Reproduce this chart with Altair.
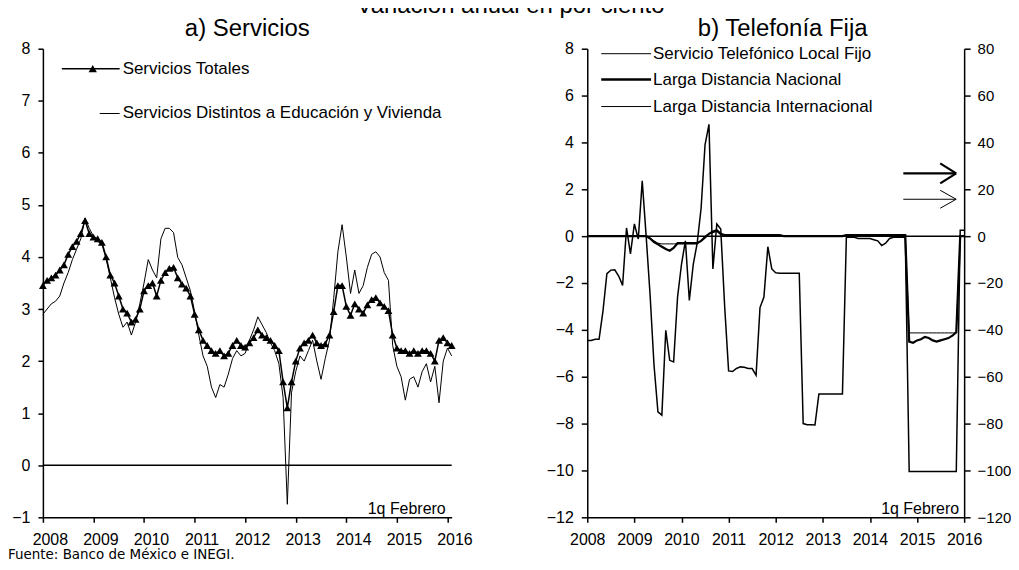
import altair as alt
import pandas as pd

FONT = "Liberation Sans"

# ---------------- a) Servicios : monthly, Jan 2008 .. Feb 2016 ----------------
serv_totales = [
    3.45, 3.55, 3.6, 3.65, 3.75, 3.85, 4.05, 4.2, 4.3, 4.45, 4.7, 4.45,      # 2008
    4.38, 4.35, 4.28, 4.0, 3.65, 3.5, 3.25, 3.0, 2.92, 2.75, 2.8, 3.0,       # 2009
    3.35, 3.45, 3.5, 3.25, 3.55, 3.7, 3.78, 3.8, 3.6, 3.48, 3.4, 3.25,      # 2010
    2.9, 2.6, 2.4, 2.3, 2.2, 2.15, 2.2, 2.1, 2.15, 2.3, 2.4, 2.3,           # 2011
    2.27, 2.35, 2.45, 2.6, 2.5, 2.45, 2.4, 2.3, 2.2, 1.6, 1.1, 1.6,         # 2012
    2.0, 2.25, 2.35, 2.4, 2.5, 2.35, 2.3, 2.33, 2.5, 2.95, 3.45, 3.45,      # 2013
    3.05, 2.88, 3.1, 3.0, 2.92, 3.08, 3.18, 3.22, 3.12, 3.05, 2.97, 2.5,    # 2014
    2.25, 2.2, 2.2, 2.15, 2.2, 2.15, 2.2, 2.2, 2.15, 2.0, 2.4, 2.45,        # 2015
    2.35, 2.3,                                                               # 2016
]
serv_distintos = [
    2.9, 3.0, 3.1, 3.15, 3.25, 3.5, 3.7, 3.95, 4.15, 4.35, 4.75, 4.55,      # 2008
    4.4, 4.3, 4.25, 3.96, 3.6, 3.22, 2.9, 2.65, 2.75, 2.5, 2.75, 3.1,       # 2009
    3.5, 3.95, 3.75, 3.6, 4.35, 4.55, 4.55, 4.47, 3.99, 3.85, 3.6, 3.35,    # 2010
    2.95, 2.5, 2.1, 1.9, 1.5, 1.3, 1.55, 1.5, 1.75, 2.05, 2.2, 2.1,         # 2011
    2.15, 2.4, 2.6, 2.85, 2.7, 2.55, 2.35, 2.2, 1.95, 1.3, -0.75, 1.4,      # 2012
    1.8, 2.1, 2.0, 2.2, 2.4, 2.0, 1.65, 2.05, 2.4, 3.2, 4.1, 4.62,          # 2013
    4.0, 3.3, 3.75, 3.3, 3.45, 3.8, 4.05, 4.1, 4.0, 3.7, 3.55, 2.3,         # 2014
    1.9, 1.7, 1.25, 1.65, 1.7, 1.5, 1.8, 1.95, 1.6, 1.9, 1.2, 2.0,          # 2015
    2.25, 2.1,                                                               # 2016
]
fecha_a = [2008 + i / 12 for i in range(len(serv_totales))]

# ---------------- b) Telefonía Fija : monthly, Jan 2008 .. Jan 2016 ----------------
# left axis (per cent)
local_fijo = [
    0.0, 0.0, 0.0, 0.0, 0.0, 0.0, 0.0, 0.0, 0.0, 0.0, 0.0, 0.0,                      # 2008
    0.0, 0.0, 0.0, 0.0, -0.1, -0.25, -0.35, -0.45, -0.55, -0.62, -0.5, -0.3,          # 2009
    -0.3, -0.3, -0.3, -0.3, -0.3, -0.2, -0.05, 0.1, 0.2, 0.25, 0.1, 0.05,            # 2010
    0.05, 0.05, 0.05, 0.05, 0.05, 0.05, 0.05, 0.05, 0.05, 0.05, 0.05, 0.05,          # 2011
    0.05, 0.05, 0.0, 0.0, 0.0, 0.0, 0.0, 0.0, 0.0, 0.0, 0.0, 0.0,                    # 2012
    0.0, 0.0, 0.0, 0.0, 0.0, 0.0, 0.05, 0.05, 0.05, 0.05, 0.05, 0.05,                # 2013
    0.05, 0.05, 0.05, 0.05, 0.05, 0.05, 0.05, 0.05, 0.05, 0.05, -4.5, -4.55,         # 2014
    -4.45, -4.4, -4.3, -4.35, -4.45, -4.5, -4.45, -4.4, -4.35, -4.25, -4.1, 0.0,     # 2015
    0.0,                                                                              # 2016
]
# right axis (per cent)
ld_nacional = [
    -44.5, -44.5, -44.0, -44.0, -32.0, -16.0, -14.5, -14.4, -17.0, -21.0, 3.5, -7.6,  # 2008
    5.2, -1.2, 23.6, 0.0, -25.0, -55.0, -75.0, -76.4, -40.2, -53.0, -53.7, -26.0,     # 2009
    -12.0, -2.0, -27.4, -12.0, -3.0, 12.0, 39.0, 47.7, -14.0, 5.2, 3.0, -30.0,        # 2010
    -57.5, -57.8, -56.5, -55.8, -56.0, -56.5, -56.5, -59.4, -30.5, -26.0, -4.5, -14.0,  # 2011
    -15.6, -15.8, -15.8, -15.8, -15.8, -15.8, -15.8, -80.0, -80.5, -80.5, -80.6, -67.4,  # 2012
    -67.4, -67.4, -67.4, -67.4, -67.4, -67.4, -0.5, -0.5, -0.5, -1.0, -1.0, -1.0,     # 2013
    -1.0, -1.5, -2.0, -4.0, -3.0, -1.0, -0.5, -0.5, -0.5, -0.5, -100.5, -100.5,      # 2014
    -100.5, -100.5, -100.5, -100.5, -100.5, -100.5, -100.5, -100.5, -100.5, -100.5, -100.5, 2.5,  # 2015
    2.5,                                                                              # 2016
]
ld_internacional = [
    0.0, 0.0, 0.0, 0.0, 0.0, 0.0, 0.0, 0.0, 0.0, 0.0, 0.0, 0.0,                      # 2008
    0.0, 0.0, 0.0, 0.0, -1.0, -2.0, -3.0, -3.3, -3.3, -3.3, -3.3, -3.3,              # 2009
    -3.3, -3.3, -3.3, -3.3, -3.3, -2.0, 0.0, 1.0, 1.5, 2.0, 0.5, 0.0,                # 2010
    0.0, 0.0, 0.0, 0.0, 0.0, 0.0, 0.0, 0.0, 0.0, 0.0, 0.0, 0.0,                      # 2011
    0.0, 0.0, 0.0, 0.0, 0.0, 0.0, 0.0, 0.0, 0.0, 0.0, 0.0, 0.0,                      # 2012
    0.0, 0.0, 0.0, 0.0, 0.0, 0.0, 0.0, 0.0, 0.0, 0.0, 0.0, 0.0,                      # 2013
    0.0, 0.0, 0.0, 0.0, 0.0, 0.0, 0.0, 0.0, 0.0, 0.0, -41.3, -41.3,                  # 2014
    -41.3, -41.3, -41.3, -41.3, -41.3, -41.3, -41.3, -41.3, -41.3, -41.3, -41.3, 0.0,  # 2015
    0.0,                                                                              # 2016
]
fecha_b = [2008 + i / 12 for i in range(len(local_fijo))]

anios = list(range(2008, 2017))
ticks_a = list(range(-1, 9))
ticks_bl = list(range(-12, 9, 2))
ticks_br = list(range(-120, 81, 20))

df_a = pd.DataFrame({"t": fecha_a, "tot": serv_totales, "dist": serv_distintos})
df_b = pd.DataFrame({"t": fecha_b, "loc": local_fijo, "ldn": ld_nacional, "ldi": ld_internacional})
zero_df = pd.DataFrame({"v": [0]})
one = alt.Data(values=[{"k": 1}])

W1, W2, H = 410, 378, 470


def txt(s, x, y, size, align="left", baseline="middle", font=FONT):
    return alt.Chart(one).mark_text(
        text=s, font=font, fontSize=size, align=align, baseline=baseline, color="black"
    ).encode(x=alt.value(x), y=alt.value(y))


def seg(x1, y1, x2, y2, w):
    return alt.Chart(one).mark_rule(color="black", strokeWidth=w).encode(
        x=alt.value(x1), y=alt.value(y1), x2=alt.value(x2), y2=alt.value(y2)
    )


# ---------------- panel a ----------------
xa_scale = alt.Scale(domain=[2008, fecha_a[-1]], nice=False, zero=False)
xa = alt.X("t:Q", scale=xa_scale,
           axis=alt.Axis(values=anios, format="d", title=None, grid=False,
                         tickSize=5, labelPadding=9, labelOffset=7, labelFlush=False))
ya_scale = alt.Scale(domain=[-1, 8], nice=False, zero=False)

zero_a = alt.Chart(zero_df).mark_rule(color="black", strokeWidth=1.5).encode(
    y=alt.Y("v:Q", scale=ya_scale,
            axis=alt.Axis(values=ticks_a, title=None, grid=False, tickSize=5, labelPadding=8))
)
line_dist = alt.Chart(df_a).mark_line(color="black", strokeWidth=1).encode(
    x=xa, y=alt.Y("dist:Q", scale=ya_scale)
)
line_tot = alt.Chart(df_a).mark_line(
    color="black", strokeWidth=1.5,
    point=alt.OverlayMarkDef(shape="triangle-up", filled=True, size=62, color="black", opacity=1),
).encode(x=xa, y=alt.Y("tot:Q", scale=ya_scale))

panel_a = alt.layer(
    zero_a, line_dist, line_tot,
    seg(19, 20, 77, 20, 1.5),
    alt.Chart(one).mark_point(shape="triangle-up", filled=True, size=70, color="black", opacity=1)
    .encode(x=alt.value(50), y=alt.value(20)),
    txt("Servicios Totales", 80, 20, 17),
    seg(57, 65, 77, 65, 1),
    txt("Servicios Distintos a Educación y Vivienda", 80, 65, 17),
    txt("a) Servicios", 205, -13, 24, align="center", baseline="alphabetic"),
    txt("Variación anual en por ciento", 469, -36, 24, align="center", baseline="alphabetic"),
    txt("1q Febrero", 404, 467, 16, align="right", baseline="alphabetic"),
    txt("Fuente: Banco de México e INEGI.", -35, 512, 13.5, align="left",
        baseline="alphabetic", font="DejaVu Sans"),
).properties(width=W1, height=H)

# ---------------- panel b ----------------
xb = alt.X("t:Q", scale=alt.Scale(domain=[2008, 2016], nice=False, zero=False),
           axis=alt.Axis(values=anios, format="d", title=None, grid=False,
                         tickSize=5, labelPadding=9, labelFlush=False))
yl_scale = alt.Scale(domain=[-12, 8], nice=False, zero=False)
yr_scale = alt.Scale(domain=[-120, 80], nice=False, zero=False)

zero_b = alt.Chart(zero_df).mark_rule(color="black", strokeWidth=1.5).encode(
    y=alt.Y("v:Q", scale=yl_scale,
            axis=alt.Axis(values=ticks_bl, title=None, grid=False, tickSize=6,
                          labelPadding=8, orient="left"))
)
line_loc = alt.Chart(df_b).mark_line(color="black", strokeWidth=2.2).encode(
    x=xb, y=alt.Y("loc:Q", scale=yl_scale)
)
left_group = alt.layer(
    zero_b, line_loc,
    seg(14, 5, 64, 5, 1),
    txt("Servicio Telefónico Local Fijo", 66, 5, 17),
    seg(14, 31, 64, 31, 2.5),
    txt("Larga Distancia Nacional", 66, 31, 17),
    seg(14, 58, 64, 58, 1),
    txt("Larga Distancia Internacional", 66, 58, 17),
    # arrows pointing to the right axis
    seg(317, 125, 370, 125, 2.2),
    seg(354, 115, 370, 125, 2.2),
    seg(354, 135, 370, 125, 2.2),
    seg(317, 151, 370, 151, 1),
    seg(354, 142, 370, 151, 1),
    seg(354, 160, 370, 151, 1),
    txt("b) Telefonía Fija", 196, -13, 24, align="center", baseline="alphabetic"),
    txt("1q Febrero", 373, 467, 16, align="right", baseline="alphabetic"),
)
line_ldn = alt.Chart(df_b).mark_line(color="black", strokeWidth=1.5).encode(
    x=xb,
    y=alt.Y("ldn:Q", scale=yr_scale,
            axis=alt.Axis(values=ticks_br, title=None, grid=False, tickSize=6,
                          labelPadding=7, labelFontSize=15, orient="right")),
)
line_ldi = alt.Chart(df_b).mark_line(color="black", strokeWidth=1).encode(
    x=xb, y=alt.Y("ldi:Q", scale=yr_scale)
)
right_group = alt.layer(line_ldn, line_ldi)

panel_b = alt.layer(left_group, right_group).resolve_scale(y="independent").properties(
    width=W2, height=H
)

chart = (
    alt.hconcat(panel_a, panel_b, spacing=136, bounds="flush")
    .properties(padding={"left": 0, "top": -15, "right": 0, "bottom": 0})
    .configure_view(stroke=None)
    .configure_axis(
        domainColor="black", domainWidth=1.5, tickColor="black", tickWidth=1.5,
        labelColor="black", labelFont=FONT, labelFontSize=16,
    )
)

chart.save("out.html", embed_options={"renderer": "svg", "actions": False})
